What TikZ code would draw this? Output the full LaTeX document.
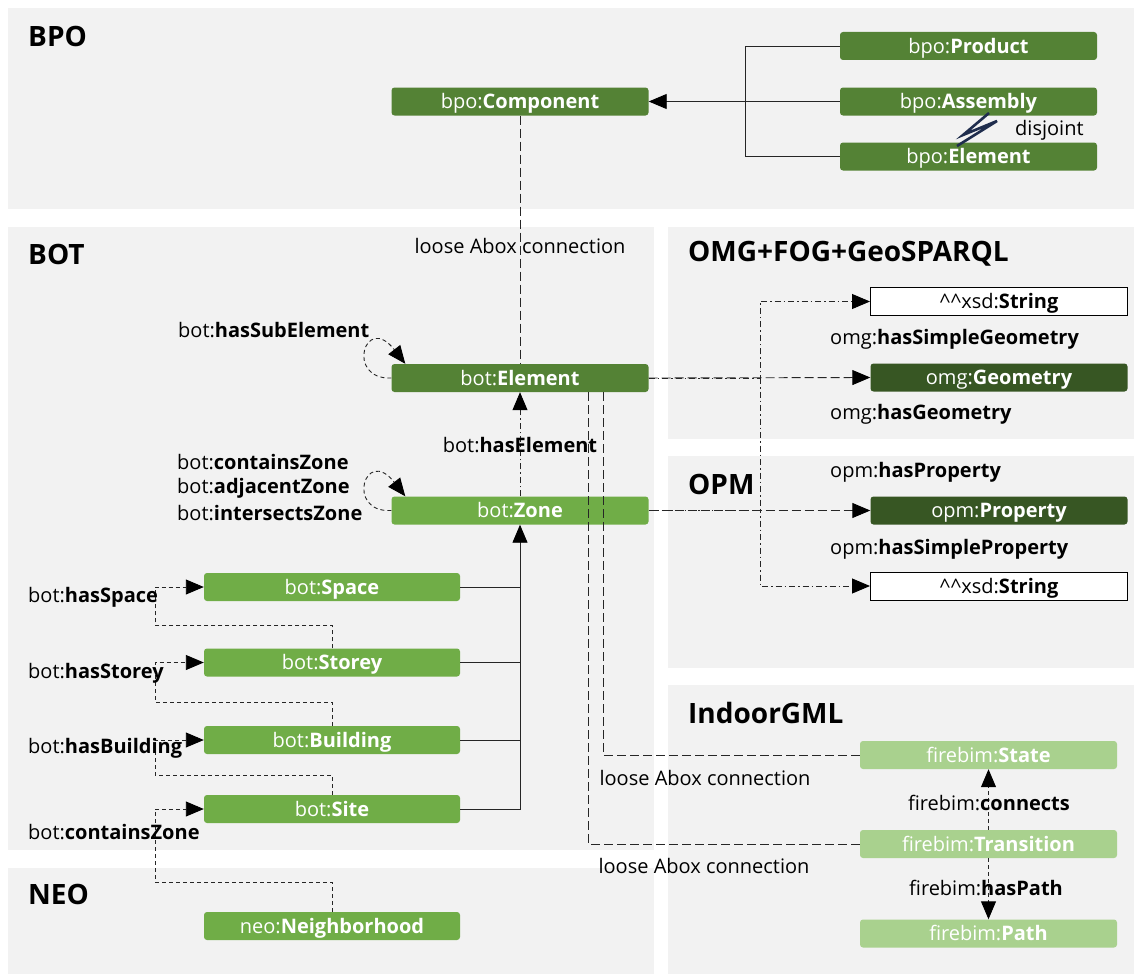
\documentclass[tikz,border=0pt]{standalone}
\usepackage{fontspec}
\setmainfont{Open Sans}
\usetikzlibrary{arrows.meta,calc}
\definecolor{panelgray}{HTML}{F2F2F2}
\definecolor{gdark}{HTML}{548235}
\definecolor{gmid}{HTML}{70AD47}
\definecolor{gdeep}{HTML}{375623}
\definecolor{glight}{HTML}{A9D18E}
\definecolor{navyline}{HTML}{1F2D4D}
\definecolor{linegray}{HTML}{262626}
\newcommand{\lblfont}{\fontsize{20}{24}\selectfont}
\newcommand{\ttlfont}{\fontsize{28}{32}\selectfont\bfseries}
\begin{document}
\begin{tikzpicture}[x=1pt,y=-1pt,
  box/.style={rounded corners=3pt, minimum width=257pt, minimum height=28pt,
    text height=14.5pt, text depth=0.5pt, inner sep=0pt, text=white, font=\lblfont},
  dkbox/.style={box, fill=gdark},
  midbox/.style={box, fill=gmid},
  deepbox/.style={box, fill=gdeep},
  ltbox/.style={box, fill=glight},
  litbox/.style={box, rounded corners=0pt, fill=white, draw=black, line width=1pt, text=black},
  lbl/.style={inner sep=0pt, font=\lblfont, text=black},
  ttl/.style={inner sep=0pt, font=\ttlfont, text=black, anchor=west},
  conn/.style={draw=linegray, line width=0.9pt},
  tip/.style={-{Triangle[length=18pt,width=15pt,color=black]}},
  shortdash/.style={conn, dash pattern=on 4pt off 3pt},
  longdash/.style={conn, dash pattern=on 9pt off 4pt},
  dashdotted/.style={conn, dash pattern=on 6pt off 3pt on 1.5pt off 3pt},
]
\useasboundingbox (0,0) rectangle (1134,974);
\fill[white] (0,0) rectangle (1134,974);
% panels
\fill[panelgray] (8,8) rectangle (1134,209);
\fill[panelgray] (8,227) rectangle (654,850);
\fill[panelgray] (8,868) rectangle (654,974);
\fill[panelgray] (668,227) rectangle (1134,439);
\fill[panelgray] (668,456) rectangle (1134,668);
\fill[panelgray] (668,685) rectangle (1134,974);

% titles
\node[ttl] (tBPO) at (28,36) {BPO};
\node[ttl] (tBOT) at (28,254) {BOT};
\node[ttl] (tNEO) at (28,894) {NEO};
\node[ttl] (tOMG) at (688,254) {OMG+FOG+GeoSPARQL};
\node[ttl] (tOPM) at (688,484) {OPM};
\node[ttl] (tIGML) at (688,713) {IndoorGML};

% BPO nodes
\node[dkbox] (bpoComp) at (520,101.5) {bpo:\textbf{Component}};
\node[dkbox] (bpoProd) at (968.5,46) {bpo:\textbf{Product}};
\node[dkbox] (bpoAss) at (968.5,101.5) {bpo:\textbf{Assembly}};
\node[dkbox] (bpoElem) at (968.5,156.5) {bpo:\textbf{Element}};

% BOT nodes
\node[dkbox] (botElem) at (520,378) {bot:\textbf{Element}};
\node[midbox] (botZone) at (520,510.5) {bot:\textbf{Zone}};
\node[midbox, minimum width=256pt] (botSpace) at (332,587) {bot:\textbf{Space}};
\node[midbox, minimum width=256pt] (botStorey) at (332,662.5) {bot:\textbf{Storey}};
\node[midbox, minimum width=256pt] (botBuilding) at (332,740) {bot:\textbf{Building}};
\node[midbox, minimum width=256pt] (botSite) at (332,809) {bot:\textbf{Site}};
\node[midbox, minimum width=256pt] (neoNb) at (332,926) {neo:\textbf{Neighborhood}};

% right nodes
\node[litbox] (strA) at (999,301.5) {\textasciicircum\textasciicircum xsd:\textbf{String}};
\node[deepbox] (omgGeom) at (999,377.5) {omg:\textbf{Geometry}};
\node[deepbox] (opmProp) at (999,510.5) {opm:\textbf{Property}};
\node[litbox] (strB) at (999,586) {\textasciicircum\textasciicircum xsd:\textbf{String}};
\node[ltbox] (fbState) at (988.5,755) {firebim:\textbf{State}};
\node[ltbox] (fbTrans) at (988.5,844) {firebim:\textbf{Transition}};
\node[ltbox] (fbPath) at (988.5,933.5) {firebim:\textbf{Path}};

% BPO generalization
\coordinate (bpoJ) at (745,101.5);
\draw[conn] (bpoProd.west) -| (bpoJ) |- (bpoElem.west);
\draw[conn, tip] (bpoAss.west) -- (bpoComp.east);
% disjoint mark
\draw[navyline, line width=2.6pt, line join=miter] (989,113) -- (963,135) -- (997,121) -- (957,146);
\node[lbl, anchor=west] (disj) at (1015,130) {disjoint};

% BPO - BOT loose connection
\draw[longdash] (bpoComp.south) -- (botElem.north);
\node[lbl] (looseA) at (520,246) {loose Abox connection};

% self loops
\draw[shortdash, tip] (botElem.west) .. controls (345,380) and (365,312) .. ($(botElem.north west)+(14,0)$);
\node[lbl, anchor=west] (lSub) at (178,330) {bot:\textbf{hasSubElement}};
\draw[shortdash, tip] (botZone.west) .. controls (345,513) and (365,445) .. ($(botZone.north west)+(14,0)$);
\node[lbl, anchor=west] (lZ1) at (177,462) {bot:\textbf{containsZone}};
\node[lbl, anchor=west] (lZ2) at (177,488) {bot:\textbf{adjacentZone}};
\node[lbl, anchor=west] (lZ3) at (177,513) {bot:\textbf{intersectsZone}};

% hasElement
\draw[dashdotted, tip] (botZone.north) -- (botElem.south);
\node[lbl] (lHasEl) at (520,445) {bot:\textbf{hasElement}};

% subclasses of zone
\coordinate (zJ) at (520,809);
\draw[conn] (botSpace.east) -- (botSpace.east -| zJ);
\draw[conn] (botStorey.east) -- (botStorey.east -| zJ);
\draw[conn] (botBuilding.east) -- (botBuilding.east -| zJ);
\draw[conn, tip] (botSite.east) -| (botZone.south);

% containment chain
\draw[shortdash, tip] (botStorey.north) |- (155,625) |- (botSpace.west);
\node[lbl, anchor=west] (lSpace) at (28,597) {bot:\textbf{hasSpace}};
\draw[shortdash, tip] (botBuilding.north) |- (155,702) |- (botStorey.west);
\node[lbl, anchor=west] (lStorey) at (28,673) {bot:\textbf{hasStorey}};
\draw[shortdash, tip] (botSite.north) |- (155,775) |- (botBuilding.west);
\node[lbl, anchor=west] (lBuild) at (28,748) {bot:\textbf{hasBuilding}};
\draw[shortdash, tip] (neoNb.north) |- (155,882) |- (botSite.west);
\node[lbl, anchor=west] (lCont) at (28,832) {bot:\textbf{containsZone}};

% geometry / property
\draw[dashdotted, tip] (botElem.east) -- (760,378) |- (strA.west);
\draw[dashdotted] (760,378) -- (760,510.5);
\draw[dashdotted, tip] (botZone.east) -- (760,510.5) |- (strB.west);
\draw[longdash, tip] (botElem.east) -- (omgGeom.west);
\draw[longdash, tip] (botZone.east) -- (opmProp.west);
\node[lbl, anchor=west] (lSG) at (830,339) {omg:\textbf{hasSimpleGeometry}};
\node[lbl, anchor=west] (lG) at (830,414) {omg:\textbf{hasGeometry}};
\node[lbl, anchor=west] (lP) at (830,472) {opm:\textbf{hasProperty}};
\node[lbl, anchor=west] (lSP) at (830,549) {opm:\textbf{hasSimpleProperty}};

% IndoorGML loose connections
\draw[longdash] ($(botElem.south)+(83,0)$) |- (fbState.west);
\node[lbl] (looseB) at (705,778) {loose Abox connection};
\draw[longdash] ($(botElem.south)+(68,0)$) |- (fbTrans.west);
\node[lbl] (looseC) at (704,866) {loose Abox connection};

% IndoorGML relations
\draw[shortdash, tip] (fbTrans.north) -- (fbState.south);
\node[lbl] (lConn) at (989,803) {firebim:\textbf{connects}};
\draw[shortdash, tip] (fbTrans.south) -- (fbPath.north);
\node[lbl] (lPath) at (986,888) {firebim:\textbf{hasPath}};
\end{tikzpicture}
\end{document}
